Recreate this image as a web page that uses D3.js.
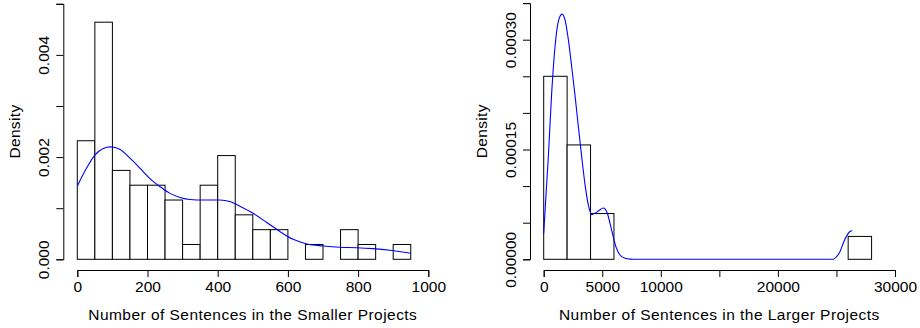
<!DOCTYPE html>
<html>
<head>
<meta charset="utf-8">
<script src="https://cdn.jsdelivr.net/npm/d3@7"></script>
<style>
  html, body { margin: 0; padding: 0; background: #fff; }
  svg { display: block; font-family: "Liberation Sans", Arial, Helvetica, sans-serif; }
</style>
</head>
<body>
<svg id="chart" width="920" height="328"></svg>
<script>
// ---------- Data: smaller projects ----------
const smallBinStart = [0, 50, 100, 150, 200, 250, 300, 350, 400, 450, 500, 550, 600, 650, 700, 750, 800, 850, 900];
const smallBinEnd   = [50, 100, 150, 200, 250, 300, 350, 400, 450, 500, 550, 600, 650, 700, 750, 800, 850, 900, 950];
const smallDensity  = [0.00232, 0.00464, 0.00174, 0.00145, 0.00145, 0.00116, 0.00029, 0.00145, 0.00203, 0.00087, 0.00058, 0.00058, 0, 0.00029, 0, 0.00058, 0.00029, 0, 0.00029];
const smallCurveX = [0, 26, 50, 74, 95, 122, 150, 179, 207, 236, 264, 293, 321, 359, 406, 435, 463, 501, 540, 578, 615, 654, 701, 748, 796, 843, 891, 950];
const smallCurveY = [0.00143, 0.00178, 0.00204, 0.00217, 0.0022, 0.00215, 0.00198, 0.00178, 0.00158, 0.00142, 0.00129, 0.00121, 0.00117, 0.00116, 0.00116, 0.00113, 0.00104, 0.0009, 0.00072, 0.00054, 0.00039, 0.0003, 0.00026, 0.000235, 0.000227, 0.000208, 0.000176, 0.000117];
const smallXTicks = [0, 200, 400, 600, 800, 1000];
const smallXLabels = ["0", "200", "400", "600", "800", "1000"];
const smallYTicks = [0, 0.001, 0.002, 0.003, 0.004, 0.005];
const smallYLabels = ["0.000", "", "0.002", "", "0.004", ""];

// ---------- Data: larger projects ----------
const largeBinStart = [0, 2000, 4000, 26000];
const largeBinEnd   = [2000, 4000, 6000, 28000];
const largeDensity  = [0.00025, 0.00015625, 0.0000625, 0.00003125];
const largeCurveX = [0, 396, 680, 965, 1250, 1563, 1820, 2105, 2390, 2675, 2960, 3245, 3530, 3815, 4100, 4385, 4750, 5090, 5430, 5800, 6170, 6515, 6940, 7370, 8000, 24000, 24726, 25010, 25300, 25580, 25870, 26150, 26350];
const largeCurveY = [0.0000355, 0.00014, 0.000227, 0.00029, 0.000325, 0.000335, 0.000327, 0.0003, 0.000263, 0.000224, 0.000181, 0.00014, 0.000102, 0.000074, 0.000061, 0.000063, 0.000067, 0.00007, 0.000063, 0.00004, 0.000017, 0.0000059, 0.0000014, 0.0000003, 0, 0, 0, 0.0000036, 0.0000104, 0.000022, 0.000032, 0.000038, 0.000039];
const largeXTicks = [0, 5000, 10000, 15000, 20000, 25000, 30000];
const largeXLabels = ["0", "5000", "10000", "", "20000", "", "30000"];
const largeYTicks = [0, 0.00005, 0.0001, 0.00015, 0.0002, 0.00025, 0.0003, 0.00035];
const largeYLabels = ["0.00000", "", "", "0.00015", "", "", "0.00030", ""];

const svg = d3.select("#chart");
const FONT = 15.5;

function panel(cfg) {
  const x = d3.scaleLinear().domain(cfg.xDomain).range(cfg.xRange);
  const y = d3.scaleLinear().domain(cfg.yDomain).range(cfg.yRange);
  const g = svg.append("g");

  // bars
  g.selectAll("rect.bar")
    .data(cfg.binStart.map((s, i) => ({ s, e: cfg.binEnd[i], d: cfg.density[i] })))
    .join("rect")
    .attr("class", "bar")
    .attr("x", d => x(d.s))
    .attr("width", d => x(d.e) - x(d.s))
    .attr("y", d => y(d.d))
    .attr("height", d => y(0) - y(d.d))
    .attr("fill", "#fff")
    .attr("stroke", "#000")
    .attr("stroke-width", 1);

  // density curve
  const pts = cfg.curveX.map((v, i) => [v, cfg.curveY[i]]);
  g.append("path")
    .datum(pts)
    .attr("fill", "none")
    .attr("stroke", "#0000ff")
    .attr("stroke-width", 1.1)
    .attr("d", d3.line().x(d => x(d[0])).y(d => y(d[1])).curve(d3.curveMonotoneX));

  // x axis
  const xa = g.append("g")
    .attr("transform", `translate(0,${cfg.xAxisY})`)
    .call(d3.axisBottom(x).tickValues(cfg.xTicks)
      .tickFormat((d, i) => cfg.xLabels[i]).tickSizeOuter(0).tickSize(7).tickPadding(4));
  xa.selectAll("path, line").attr("stroke", "#000");
  xa.selectAll("text").attr("font-size", FONT).attr("fill", "#000");
  xa.attr("font-family", null);

  // y axis
  const ya = g.append("g")
    .attr("transform", `translate(${cfg.yAxisX},0)`)
    .call(d3.axisLeft(y).tickValues(cfg.yTicks)
      .tickFormat((d, i) => cfg.yLabels[i]).tickSizeOuter(0).tickSize(7));
  ya.attr("font-family", null);
  ya.selectAll("path, line").attr("stroke", "#000");
  ya.selectAll("text")
    .attr("x", null).attr("dy", null)
    .attr("transform", "translate(-14,0) rotate(-90)")
    .attr("text-anchor", "middle")
    .attr("font-size", FONT)
    .attr("fill", "#000");

  // titles
  svg.append("text")
    .attr("x", (cfg.xRange[0] + cfg.xRange[1]) / 2)
    .attr("y", 319.5)
    .attr("text-anchor", "middle")
    .attr("font-size", FONT)
    .attr("letter-spacing", "0.46px")
    .text(cfg.xTitle);
  svg.append("text")
    .attr("transform", `translate(${cfg.yTitleX},${(cfg.yRange[0] + y(cfg.yTicks[cfg.yTicks.length - 1])) / 2}) rotate(-90)`)
    .attr("text-anchor", "middle")
    .attr("font-size", FONT)
    .attr("letter-spacing", "0.35px")
    .text("Density");
}

panel({
  xDomain: [0, 1000], xRange: [77.3, 428.3],
  yDomain: [0, 0.005], yRange: [259.3, 3.8],
  binStart: smallBinStart, binEnd: smallBinEnd, density: smallDensity,
  curveX: smallCurveX, curveY: smallCurveY,
  xTicks: smallXTicks, xLabels: smallXLabels,
  yTicks: smallYTicks, yLabels: smallYLabels,
  xAxisY: 270, yAxisX: 63.3, yTitleX: 20,
  xTitle: "Number of Sentences in the Smaller Projects"
});

panel({
  xDomain: [0, 30000], xRange: [543.7, 895],
  yDomain: [0, 0.00035], yRange: [259.3, 3.1],
  binStart: largeBinStart, binEnd: largeBinEnd, density: largeDensity,
  curveX: largeCurveX, curveY: largeCurveY,
  xTicks: largeXTicks, xLabels: largeXLabels,
  yTicks: largeYTicks, yLabels: largeYLabels,
  xAxisY: 270, yAxisX: 530, yTitleX: 487,
  xTitle: "Number of Sentences in the Larger Projects"
});
</script>
</body>
</html>
